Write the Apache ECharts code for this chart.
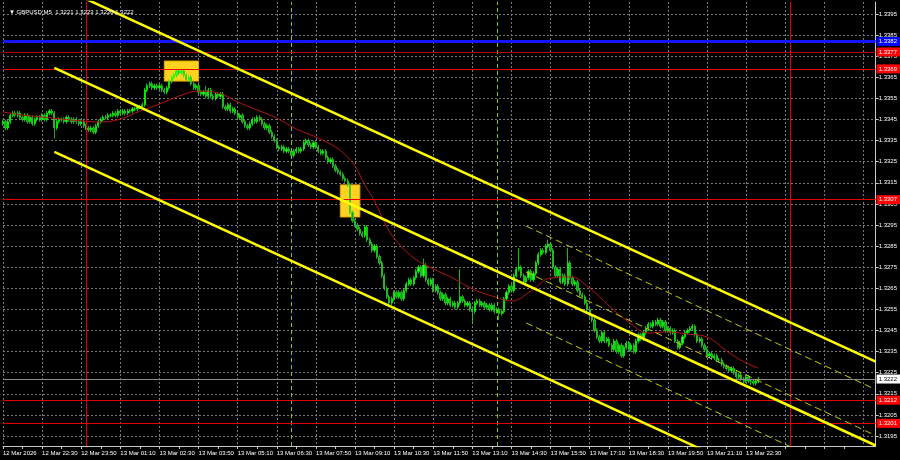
<!DOCTYPE html>
<html><head><meta charset="utf-8">
<script src="https://cdn.jsdelivr.net/npm/echarts@6/dist/echarts.min.js"></script>
<style>html,body{margin:0;padding:0;background:#000;}#c{width:900px;height:460px;}</style>
</head><body><div id="c"></div>
<script>
const tickLabels = ["12 Mar 2026","12 Mar 22:30","12 Mar 23:50","13 Mar 01:10","13 Mar 02:30","13 Mar 03:50","13 Mar 05:10","13 Mar 06:30","13 Mar 07:50","13 Mar 09:10","13 Mar 10:30","13 Mar 11:50","13 Mar 13:10","13 Mar 14:30","13 Mar 15:50","13 Mar 17:10","13 Mar 18:30","13 Mar 19:50","13 Mar 21:10","13 Mar 22:30"];
const priceTicks = [1.3195,1.3205,1.3215,1.3225,1.3235,1.3245,1.3255,1.3265,1.3275,1.3285,1.3295,1.3305,1.3315,1.3325,1.3335,1.3345,1.3355,1.3365,1.3375,1.3385,1.3395];
const firstOpen = 1.3343;
const closes = [
1.3344,1.3341,1.3344,1.3347,1.3348,1.3347,1.3348,1.3346,1.3345,1.3347,
1.3344,1.3346,1.3343,1.3345,1.3346,1.3345,1.3347,1.3345,1.3348,1.3349,
1.3348,1.3341,1.3344,1.3345,1.3345,1.3344,1.3346,1.3345,1.3344,1.3345,
1.3344,1.3343,1.3344,1.3342,1.3341,1.3340,1.3341,1.3339,1.3342,1.3344,
1.3345,1.3346,1.3346,1.3347,1.3347,1.3348,1.3347,1.3349,1.3348,1.3349,
1.3348,1.3349,1.3349,1.3350,1.3350,1.3351,1.3351,1.3352,1.3359,1.3361,
1.3362,1.3360,1.3361,1.3360,1.3361,1.3359,1.3358,1.3360,1.3363,1.3365,
1.3366,1.3368,1.3367,1.3368,1.3366,1.3364,1.3365,1.3362,1.3360,1.3361,
1.3358,1.3357,1.3358,1.3356,1.3359,1.3356,1.3355,1.3357,1.3356,1.3357,
1.3351,1.3350,1.3352,1.3349,1.3350,1.3348,1.3346,1.3347,1.3344,1.3342,
1.3341,1.3343,1.3345,1.3344,1.3346,1.3345,1.3343,1.3341,1.3342,1.3339,
1.3337,1.3335,1.3332,1.3331,1.3332,1.3330,1.3331,1.3330,1.3328,1.3330,
1.3331,1.3330,1.3331,1.3334,1.3335,1.3333,1.3332,1.3334,1.3332,1.3330,
1.3329,1.3330,1.3327,1.3325,1.3326,1.3323,1.3321,1.3320,1.3319,1.3317,
1.3316,1.3314,1.3301,1.3297,1.3295,1.3293,1.3291,1.3290,1.3294,1.3288,
1.3286,1.3283,1.3285,1.3280,1.3277,1.3271,1.3265,1.3261,1.3258,1.3260,
1.3263,1.3261,1.3263,1.3260,1.3264,1.3267,1.3269,1.3267,1.3270,1.3273,
1.3275,1.3271,1.3276,1.3269,1.3267,1.3269,1.3264,1.3266,1.3263,1.3260,
1.3262,1.3258,1.3260,1.3257,1.3258,1.3256,1.3258,1.3261,1.3259,1.3257,
1.3258,1.3255,1.3254,1.3258,1.3259,1.3257,1.3258,1.3256,1.3257,1.3255,
1.3257,1.3254,1.3255,1.3253,1.3254,1.3260,1.3263,1.3266,1.3264,1.3271,
1.3274,1.3275,1.3271,1.3268,1.3270,1.3273,1.3269,1.3272,1.3277,1.3281,
1.3283,1.3282,1.3285,1.3286,1.3283,1.3275,1.3271,1.3274,1.3268,1.3271,
1.3267,1.3277,1.3270,1.3267,1.3268,1.3264,1.3262,1.3261,1.3258,1.3255,
1.3252,1.3250,1.3245,1.3242,1.3240,1.3244,1.3240,1.3241,1.3238,1.3236,
1.3240,1.3235,1.3238,1.3233,1.3237,1.3239,1.3236,1.3238,1.3235,1.3240,
1.3243,1.3241,1.3244,1.3246,1.3248,1.3247,1.3249,1.3248,1.3250,1.3247,
1.3249,1.3245,1.3246,1.3244,1.3245,1.3240,1.3237,1.3239,1.3242,1.3244,
1.3245,1.3246,1.3247,1.3243,1.3240,1.3241,1.3238,1.3236,1.3233,1.3234,
1.3232,1.3233,1.3231,1.3231,1.3229,1.3228,1.3227,1.3226,1.3227,1.3225,
1.3223,1.3224,1.3222,1.3221,1.3223,1.3221,1.3221,1.3220,1.3221,1.3222];
const highs = [
1.3345,1.3345,1.3345,1.3348,1.3349,1.3349,1.3349,1.3349,1.3347,1.3348,
1.3348,1.3347,1.3347,1.3346,1.3347,1.3347,1.3348,1.3348,1.3349,1.3350,
1.3350,1.3349,1.3345,1.3346,1.3346,1.3346,1.3347,1.3347,1.3346,1.3346,
1.3346,1.3345,1.3345,1.3345,1.3343,1.3342,1.3342,1.3342,1.3343,1.3345,
1.3346,1.3347,1.3347,1.3348,1.3348,1.3349,1.3349,1.3350,1.3350,1.3350,
1.3350,1.3350,1.3350,1.3351,1.3351,1.3352,1.3352,1.3353,1.3360,1.3362,
1.3363,1.3363,1.3362,1.3362,1.3362,1.3362,1.3360,1.3361,1.3364,1.3366,
1.3367,1.3369,1.3369,1.3369,1.3369,1.3367,1.3366,1.3366,1.3363,1.3362,
1.3362,1.3359,1.3359,1.3361,1.3360,1.3360,1.3357,1.3358,1.3358,1.3358,
1.3358,1.3352,1.3353,1.3353,1.3351,1.3351,1.3349,1.3348,1.3348,1.3345,
1.3343,1.3344,1.3346,1.3346,1.3347,1.3347,1.3346,1.3344,1.3343,1.3343,
1.3340,1.3338,1.3336,1.3333,1.3333,1.3333,1.3332,1.3332,1.3331,1.3331,
1.3332,1.3332,1.3332,1.3335,1.3336,1.3336,1.3334,1.3335,1.3335,1.3333,
1.3331,1.3331,1.3331,1.3328,1.3327,1.3327,1.3324,1.3322,1.3321,1.3320,
1.3318,1.3317,1.3315,1.3302,1.3298,1.3296,1.3294,1.3292,1.3295,1.3295,
1.3289,1.3287,1.3286,1.3286,1.3281,1.3278,1.3272,1.3266,1.3262,1.3261,
1.3264,1.3264,1.3264,1.3264,1.3265,1.3268,1.3270,1.3270,1.3271,1.3274,
1.3276,1.3276,1.3279,1.3277,1.3270,1.3270,1.3270,1.3267,1.3267,1.3264,
1.3263,1.3263,1.3261,1.3261,1.3259,1.3259,1.3259,1.3274,1.3262,1.3260,
1.3259,1.3259,1.3256,1.3259,1.3260,1.3260,1.3259,1.3259,1.3258,1.3258,
1.3258,1.3258,1.3256,1.3256,1.3255,1.3261,1.3264,1.3267,1.3267,1.3272,
1.3275,1.3284,1.3276,1.3272,1.3271,1.3274,1.3274,1.3273,1.3278,1.3282,
1.3284,1.3284,1.3286,1.3288,1.3287,1.3284,1.3276,1.3275,1.3275,1.3272,
1.3272,1.3284,1.3278,1.3271,1.3269,1.3269,1.3265,1.3263,1.3262,1.3259,
1.3256,1.3253,1.3251,1.3246,1.3243,1.3245,1.3245,1.3242,1.3242,1.3239,
1.3241,1.3241,1.3239,1.3239,1.3238,1.3240,1.3240,1.3239,1.3239,1.3241,
1.3244,1.3244,1.3245,1.3247,1.3249,1.3249,1.3250,1.3250,1.3251,1.3251,
1.3250,1.3250,1.3247,1.3247,1.3246,1.3246,1.3241,1.3240,1.3243,1.3245,
1.3246,1.3247,1.3248,1.3248,1.3244,1.3242,1.3242,1.3239,1.3237,1.3235,
1.3235,1.3234,1.3234,1.3232,1.3232,1.3230,1.3229,1.3228,1.3228,1.3228,
1.3226,1.3225,1.3225,1.3223,1.3224,1.3224,1.3222,1.3222,1.3222,1.3223];
const lows = [
1.3342,1.3340,1.3340,1.3343,1.3346,1.3346,1.3346,1.3345,1.3344,1.3344,
1.3343,1.3343,1.3342,1.3342,1.3344,1.3344,1.3344,1.3344,1.3344,1.3347,
1.3347,1.3336,1.3340,1.3343,1.3344,1.3343,1.3343,1.3344,1.3343,1.3343,
1.3343,1.3342,1.3342,1.3341,1.3340,1.3339,1.3339,1.3338,1.3338,1.3341,
1.3343,1.3344,1.3345,1.3345,1.3346,1.3346,1.3346,1.3346,1.3347,1.3347,
1.3347,1.3347,1.3348,1.3348,1.3349,1.3349,1.3350,1.3350,1.3351,1.3358,
1.3360,1.3359,1.3359,1.3359,1.3359,1.3358,1.3357,1.3357,1.3359,1.3362,
1.3364,1.3365,1.3366,1.3366,1.3365,1.3363,1.3363,1.3361,1.3359,1.3359,
1.3357,1.3356,1.3356,1.3355,1.3355,1.3355,1.3354,1.3354,1.3355,1.3355,
1.3350,1.3349,1.3349,1.3348,1.3348,1.3347,1.3345,1.3345,1.3343,1.3341,
1.3340,1.3340,1.3342,1.3343,1.3343,1.3344,1.3342,1.3340,1.3340,1.3338,
1.3336,1.3334,1.3331,1.3330,1.3330,1.3329,1.3329,1.3329,1.3327,1.3327,
1.3329,1.3329,1.3329,1.3330,1.3333,1.3332,1.3331,1.3331,1.3331,1.3329,
1.3328,1.3328,1.3326,1.3324,1.3324,1.3322,1.3320,1.3319,1.3318,1.3316,
1.3315,1.3313,1.3300,1.3296,1.3294,1.3292,1.3290,1.3289,1.3289,1.3287,
1.3285,1.3282,1.3282,1.3279,1.3276,1.3270,1.3264,1.3260,1.3256,1.3257,
1.3259,1.3260,1.3260,1.3259,1.3259,1.3263,1.3266,1.3266,1.3266,1.3269,
1.3272,1.3270,1.3270,1.3268,1.3266,1.3266,1.3263,1.3263,1.3262,1.3259,
1.3259,1.3257,1.3257,1.3256,1.3256,1.3255,1.3255,1.3257,1.3258,1.3256,
1.3256,1.3254,1.3248,1.3253,1.3257,1.3256,1.3256,1.3255,1.3255,1.3254,
1.3254,1.3253,1.3253,1.3250,1.3252,1.3253,1.3259,1.3262,1.3263,1.3263,
1.3270,1.3273,1.3270,1.3267,1.3267,1.3269,1.3268,1.3268,1.3271,1.3276,
1.3280,1.3281,1.3281,1.3284,1.3282,1.3274,1.3270,1.3270,1.3267,1.3267,
1.3266,1.3266,1.3269,1.3266,1.3266,1.3263,1.3261,1.3260,1.3257,1.3254,
1.3251,1.3249,1.3244,1.3241,1.3239,1.3239,1.3239,1.3239,1.3237,1.3235,
1.3235,1.3234,1.3234,1.3232,1.3232,1.3236,1.3235,1.3235,1.3234,1.3234,
1.3239,1.3240,1.3240,1.3243,1.3245,1.3246,1.3246,1.3247,1.3247,1.3246,
1.3246,1.3244,1.3244,1.3243,1.3243,1.3239,1.3236,1.3236,1.3238,1.3241,
1.3243,1.3244,1.3245,1.3242,1.3239,1.3239,1.3237,1.3235,1.3232,1.3232,
1.3231,1.3231,1.3230,1.3230,1.3228,1.3227,1.3226,1.3225,1.3225,1.3224,
1.3222,1.3222,1.3221,1.3220,1.3220,1.3220,1.3219,1.3219,1.3219,1.3220];
const maIndex = [0,8,16,24,32,40,48,56,64,72,80,88,96,104,112,120,128,136,140,144,148,152,156,160,168,176,184,192,200,208,216,224,232,240,248,256,264,272,280,288,296,304,309];
const maValues = [1.33486,1.33471,1.33462,1.33452,1.33443,1.33438,1.33452,1.33490,1.33523,1.33561,1.33585,1.33576,1.33533,1.33495,1.33457,1.33405,1.33367,1.33320,1.33282,1.33230,1.33140,1.33064,1.32964,1.32888,1.32794,1.32742,1.32699,1.32647,1.32614,1.32590,1.32637,1.32699,1.32704,1.32651,1.32566,1.32490,1.32438,1.32443,1.32433,1.32419,1.32353,1.32296,1.32272];
const channelIdx = [21, 357];
const channelUpper = [1.34090, 1.32303];
const channelMiddle = [1.33695, 1.31905];
const channelLower = [1.33297, 1.31507];
const dashIdx = [214, 357];
const dashUpper = [1.32945, 1.32170];
const dashMiddle = [1.32727, 1.31952];
const dashLower = [1.32486, 1.31710];
const levelValues = [1.3382, 1.3377, 1.3369, 1.3307, 1.3212, 1.3201];
const bidPrice = 1.3222;
const boxes = [[66, 80, 1.33727, 1.33632], [138, 146, 1.33140, 1.32988]];
const daySeparators = [34, 322];
const sessionLines = [118, 202];
const totalSlots = 358;
const titleText = "\u25BC GBPUSD,M5  1.3221 1.3223 1.3220 1.3222";

const FONT = "'Liberation Sans',Arial,sans-serif";
const FS = 6;
const levelColors = ['#1414ff', '#b40000', '#e60000', '#e60000', '#e60000', '#e60000'];
const levelTagColors = ['#0000ff', '#ff0000', '#ff0000', '#ff0000', '#ff0000', '#ff0000'];
const levelWidths = [3, 1, 1, 1, 1, 1];

const cats = Array.from({length: totalSlots}, (_, i) => String(i));
const candleData = closes.map((c, i) => [i === 0 ? firstOpen : closes[i - 1], c, lows[i], highs[i]]);
const maData = maIndex.map((ix, k) => [ix, maValues[k]]);
const seg = (idx, vals) => [[idx[0], vals[0]], [idx[1], vals[1]]];

const tagLabel = (v, bg, fg) => ({show: true, position: 'end', distance: 1, formatter: v.toFixed(4), color: fg,
  backgroundColor: bg, padding: [2, 3, 1, 2], fontSize: FS, fontFamily: FONT});
const levelMarks = levelValues.map((v, k) => ({
  yAxis: v,
  lineStyle: {color: levelColors[k], width: levelWidths[k], type: 'solid'},
  label: tagLabel(v, levelTagColors[k], '#ffffff')
}));
levelMarks.push({yAxis: bidPrice, lineStyle: {color: '#8c8c8c', width: 1, type: 'solid'}, label: tagLabel(bidPrice, '#ffffff', '#000000')});
const vMarks = [];
daySeparators.forEach(ix => vMarks.push({xAxis: ix, lineStyle: {color: '#e60000', width: 1, type: 'solid'}, label: {show: false}}));
sessionLines.forEach(ix => vMarks.push({xAxis: ix, lineStyle: {color: '#8cc800', width: 1, type: [4, 3]}, label: {show: false}}));

const chart = echarts.init(document.getElementById('c'), null, {renderer: 'canvas'});
chart.setOption({
  animation: false,
  backgroundColor: '#000000',
  title: {text: titleText, left: 4, top: 4, textStyle: {color: '#ffffff', fontSize: FS, fontWeight: 'normal', fontFamily: FONT}},
  grid: {left: 1, right: 24, top: 2, bottom: 14, containLabel: false},
  xAxis: {
    type: 'category', data: cats, boundaryGap: false,
    axisLine: {show: true, lineStyle: {color: '#c8c8c8', width: 1}},
    axisTick: {show: true, interval: 7, length: 3, lineStyle: {color: '#c8c8c8'}},
    axisLabel: {show: true, interval: 15, align: 'left', margin: 4, color: '#ffffff', fontSize: FS, fontFamily: FONT,
      showMinLabel: true, showMaxLabel: false,
      formatter: (v, idx) => (idx % 16 === 0 && tickLabels[idx / 16]) ? tickLabels[idx / 16] : ''},
    splitLine: {show: true, interval: 15, lineStyle: {color: '#787878', width: 1, type: [2, 2]}}
  },
  yAxis: {
    type: 'value', position: 'right', min: 1.319026, max: 1.340069, scale: true,
    axisLine: {show: true, lineStyle: {color: '#c8c8c8', width: 1}},
    axisTick: {show: true, length: 3, customValues: priceTicks, lineStyle: {color: '#c8c8c8'}},
    axisLabel: {show: true, customValues: priceTicks, margin: 3, color: '#ffffff', fontSize: FS, fontFamily: FONT,
      formatter: v => Number(v).toFixed(4)},
    splitLine: {show: true, lineStyle: {color: '#787878', width: 1, type: [2, 2]}}
  },
  series: [
    {type: 'line', data: [], silent: true, z: 1,
      markArea: {silent: true, itemStyle: {color: '#ffd21f', borderColor: '#e6a800', borderWidth: 1},
        data: boxes.map(b => [{xAxis: b[0], yAxis: b[2]}, {xAxis: b[1], yAxis: b[3]}])}},
    {type: 'line', data: [], z: 2, silent: true,
      markLine: {silent: true, precision: 6, symbol: ['none', 'none'], animation: false, data: vMarks}},
    {type: 'candlestick', data: candleData, z: 3, barWidth: 1.7, silent: true,
      itemStyle: {color: '#44f444', color0: '#119a11', borderColor: '#00ff00', borderColor0: '#2ad42a', borderWidth: 0.8}},
    {type: 'line', data: maData, smooth: 0.4, symbol: 'none', z: 4, silent: true, lineStyle: {color: '#b41414', width: 1}},
    {type: 'line', data: seg(channelIdx, channelUpper), symbol: 'none', z: 5, silent: true, lineStyle: {color: '#ffff00', width: 2.5}},
    {type: 'line', data: seg(channelIdx, channelMiddle), symbol: 'none', z: 5, silent: true, lineStyle: {color: '#ffff00', width: 2.5}},
    {type: 'line', data: seg(channelIdx, channelLower), symbol: 'none', z: 5, silent: true, lineStyle: {color: '#ffff00', width: 2.5}},
    {type: 'line', data: seg(dashIdx, dashUpper), symbol: 'none', z: 5, silent: true, lineStyle: {color: '#c8c800', width: 1, type: [7, 4]}},
    {type: 'line', data: seg(dashIdx, dashMiddle), symbol: 'none', z: 5, silent: true, lineStyle: {color: '#c8c800', width: 1, type: [7, 4]}},
    {type: 'line', data: seg(dashIdx, dashLower), symbol: 'none', z: 5, silent: true, lineStyle: {color: '#c8c800', width: 1, type: [7, 4]}},
    {type: 'line', data: [], z: 6, silent: true,
      markLine: {silent: true, precision: 6, symbol: ['none', 'none'], animation: false, data: levelMarks}}
  ]
});
</script></body></html>
